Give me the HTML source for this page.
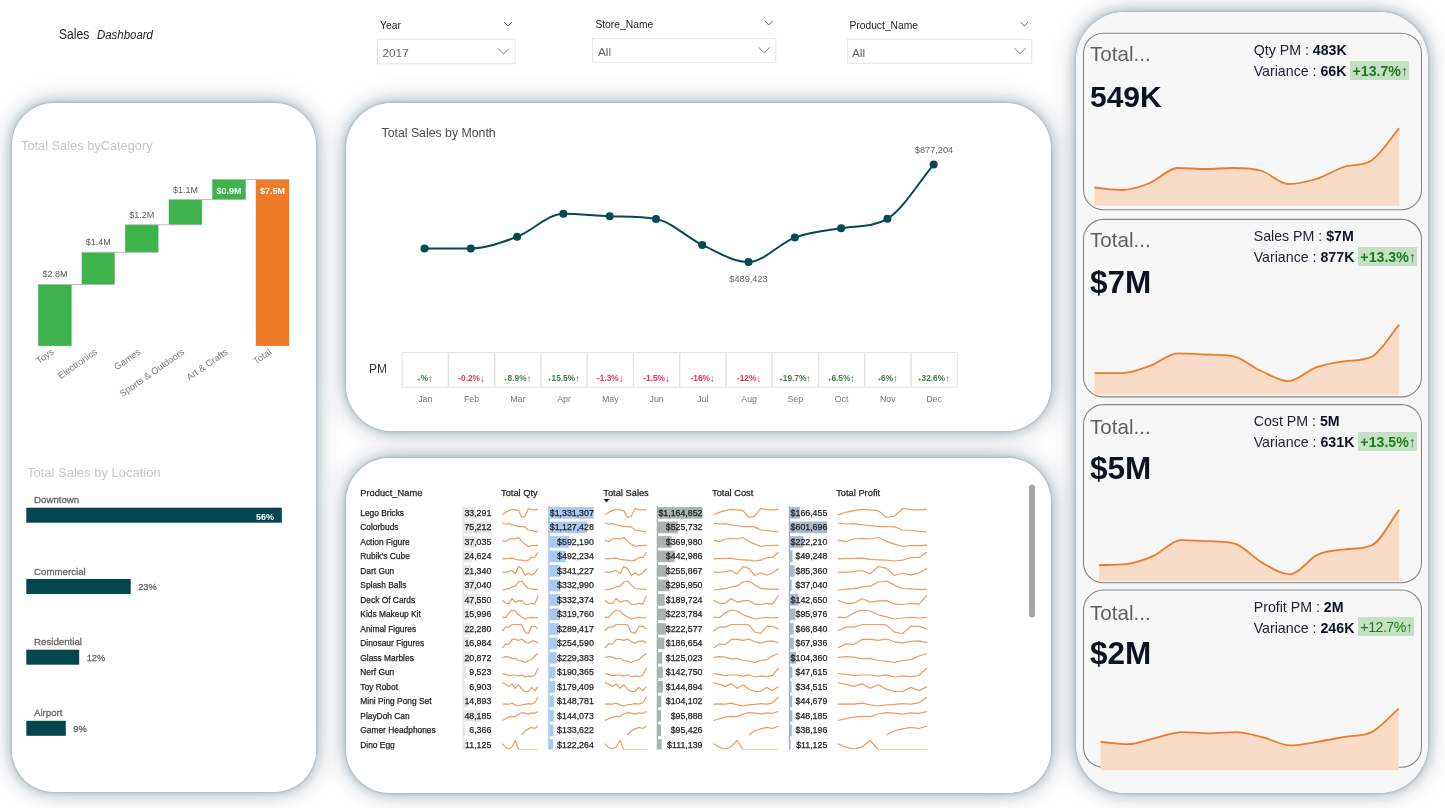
<!DOCTYPE html>
<html><head><meta charset="utf-8"><title>Sales Dashboard</title>
<style>
*{margin:0;padding:0;box-sizing:border-box}
html,body{width:1445px;height:808px;overflow:hidden;background:#ffffff}
body{position:relative;font-family:"Liberation Sans", "DejaVu Sans", sans-serif;color:#252423}
.abs{position:absolute}
.shadow{position:absolute;background:#fff;box-shadow:0 0 28px 2px rgba(40,40,70,0.16),0 0 14px 1px rgba(0,60,70,0.3),0 0 3px 0 rgba(0,50,60,0.3)}
.panel{position:absolute;background:#fff}
.t{position:absolute;white-space:nowrap;line-height:1}
svg{position:absolute;left:0;top:0;overflow:visible}
.tb text{stroke:#252423;stroke-width:0.25px}
.lb{stroke:#666;stroke-width:0.3px}
</style></head><body>

<div class="t" style="left:58.5px;top:25.88px;font-size:15.5px;color:#252423;transform:scaleX(0.78);transform-origin:0 0">Sales</div>
<div class="t" style="left:97.4px;top:28.59px;font-size:12.3px;font-style:italic;color:#252423;transform:scaleX(0.93);transform-origin:0 0">Dashboard</div>
<svg width="1445" height="808" style="z-index:5">
<rect x="377.5" y="39.3" width="137.5" height="24.400000000000006" fill="#fff" stroke="#e6e6e6" stroke-width="1"/>
<text x="380" y="29" font-size="10.3" fill="#252423">Year</text>
<text x="382.5" y="57" font-size="11.8" fill="#666666">2017</text>
<polyline points="498,48.5 503.5,54.0 509,48.5" fill="none" stroke="#6a6a6a" stroke-width="0.9"/>
<polyline points="504,22 508.0,26 512,22" fill="none" stroke="#605e5c" stroke-width="0.9"/>
<rect x="592.6" y="38.4" width="183.10000000000002" height="23.9" fill="#fff" stroke="#e6e6e6" stroke-width="1"/>
<text x="595.4" y="28" font-size="10.3" fill="#252423">Store_Name</text>
<text x="598" y="55.7" font-size="11.8" fill="#666666">All</text>
<polyline points="758.7,47.349999999999994 764.25,52.849999999999994 769.8,47.349999999999994" fill="none" stroke="#6a6a6a" stroke-width="0.9"/>
<polyline points="765,21 768.75,25 772.5,21" fill="none" stroke="#605e5c" stroke-width="0.9"/>
<rect x="847.6" y="39.3" width="184.10000000000002" height="24.0" fill="#fff" stroke="#e6e6e6" stroke-width="1"/>
<text x="849.4" y="28.7" font-size="10.3" fill="#252423">Product_Name</text>
<text x="852" y="56.5" font-size="11.8" fill="#666666">All</text>
<polyline points="1014.7,48.3 1020.1,53.8 1025.5,48.3" fill="none" stroke="#6a6a6a" stroke-width="0.9"/>
<polyline points="1020.6,22 1024.3,26 1028.0,22" fill="none" stroke="#605e5c" stroke-width="0.9"/>
</svg>
<div class="shadow" style="left:12px;top:103px;width:304px;height:689px;border-radius:42px"></div>
<div class="shadow" style="left:345.5px;top:103px;width:705.5px;height:328px;border-radius:46px"></div>
<div class="shadow" style="left:345.5px;top:457.5px;width:705.5px;height:335px;border-radius:44px"></div>
<div class="shadow" style="left:1076px;top:12.4px;width:351.5px;height:780.5px;border-radius:49px"></div>
<div class="panel" style="left:12px;top:103px;width:304px;height:689px;border-radius:42px;background:#fff"></div>
<div class="panel" style="left:345.5px;top:103px;width:705.5px;height:328px;border-radius:46px;background:#fff"></div>
<div class="panel" style="left:345.5px;top:457.5px;width:705.5px;height:335px;border-radius:44px;background:#fff"></div>
<div class="panel" style="left:1076px;top:12.4px;width:351.5px;height:780.5px;border-radius:49px;background:#f7f7f7"></div>
<svg width="1445" height="808" style="z-index:6">
<text x="21" y="150.4" font-size="12.8" fill="#c8c8c8">Total Sales byCategory</text>
<rect x="38.2" y="284.5" width="33.4" height="61.4" fill="#3cb44b"/>
<rect x="81.7" y="252.3" width="33.0" height="32.2" fill="#3cb44b"/>
<rect x="125.2" y="224.8" width="33.2" height="27.5" fill="#3cb44b"/>
<rect x="168.8" y="199.6" width="33.1" height="25.2" fill="#3cb44b"/>
<rect x="212.3" y="179.4" width="33.4" height="20.2" fill="#3cb44b"/>
<rect x="255.8" y="179.4" width="33.4" height="166.5" fill="#f07b27"/>
<line x1="38.2" y1="284.5" x2="114.7" y2="284.5" stroke="#b4b4b4" stroke-width="0.9"/>
<line x1="81.7" y1="252.3" x2="158.4" y2="252.3" stroke="#b4b4b4" stroke-width="0.9"/>
<line x1="125.2" y1="224.8" x2="201.9" y2="224.8" stroke="#b4b4b4" stroke-width="0.9"/>
<line x1="168.8" y1="199.6" x2="245.7" y2="199.6" stroke="#b4b4b4" stroke-width="0.9"/>
<line x1="212.3" y1="179.4" x2="289.2" y2="179.4" stroke="#b4b4b4" stroke-width="0.9"/>
<text x="54.9" y="276.5" font-size="9" fill="#5a5a5a" text-anchor="middle">$2.8M</text>
<text x="98.2" y="244.8" font-size="9" fill="#5a5a5a" text-anchor="middle">$1.4M</text>
<text x="141.8" y="217.7" font-size="9" fill="#5a5a5a" text-anchor="middle">$1.2M</text>
<text x="185.4" y="192.8" font-size="9" fill="#5a5a5a" text-anchor="middle">$1.1M</text>
<text x="229.0" y="194.2" font-size="9" font-weight="bold" fill="#ffffff" text-anchor="middle">$0.9M</text>
<text x="272.5" y="194.2" font-size="9" font-weight="bold" fill="#ffffff" text-anchor="middle">$7.5M</text>
<text x="52.2" y="354" font-size="9.3" fill="#7a7a7a" text-anchor="end" transform="rotate(-35 52.2 350)">Toys</text>
<text x="95.5" y="354" font-size="9.3" fill="#7a7a7a" text-anchor="end" transform="rotate(-35 95.5 350)">Electronics</text>
<text x="139.1" y="354" font-size="9.3" fill="#7a7a7a" text-anchor="end" transform="rotate(-35 139.1 350)">Games</text>
<text x="182.7" y="354" font-size="9.3" fill="#7a7a7a" text-anchor="end" transform="rotate(-35 182.7 350)">Sports &amp; Outdoors</text>
<text x="226.3" y="354" font-size="9.3" fill="#7a7a7a" text-anchor="end" transform="rotate(-35 226.3 350)">Art &amp; Crafts</text>
<text x="269.8" y="354" font-size="9.3" fill="#7a7a7a" text-anchor="end" transform="rotate(-35 269.8 350)">Total</text>
<text x="27" y="477.3" font-size="13" fill="#c8c8c8">Total Sales by Location</text>
<text x="34" y="503" font-size="9.7" fill="#666666" class="lb">Downtown</text>
<rect x="26.3" y="507.7" width="255.5" height="15" fill="#05454f"/>
<text x="274" y="519.5" font-size="9" font-weight="bold" fill="#ffffff" text-anchor="end">56%</text>
<text x="34" y="575" font-size="9.7" fill="#666666" class="lb">Commercial</text>
<rect x="26.3" y="579" width="104.4" height="15" fill="#05454f"/>
<text x="138.2" y="589.8" font-size="9.3" fill="#666666" class="lb">23%</text>
<text x="34" y="645.2" font-size="9.7" fill="#666666" class="lb">Residential</text>
<rect x="26.3" y="649.7" width="52.9" height="15" fill="#05454f"/>
<text x="86.7" y="660.5" font-size="9.3" fill="#666666" class="lb">12%</text>
<text x="34" y="716.3" font-size="9.7" fill="#666666" class="lb">Airport</text>
<rect x="26.3" y="720.8" width="39.5" height="15" fill="#05454f"/>
<text x="73.3" y="731.6" font-size="9.3" fill="#666666" class="lb">9%</text>
</svg>
<svg width="1445" height="808" style="z-index:6">
<text x="381.5" y="137.3" font-size="12.3" fill="#4a4a4a">Total Sales by Month</text>
<path d="M424.5,248.4 C439.9,248.4 455.4,248.4 470.8,248.4 C486.2,248.4 501.7,242.6 517.1,236.8 C532.5,231.0 547.9,213.8 563.4,213.8 C578.8,213.8 594.2,215.8 609.7,216.3 C625.1,216.8 640.5,216.3 656.0,218.9 C671.4,221.5 686.8,237.7 702.2,244.9 C717.7,252.1 733.1,262.0 748.5,262.0 C764.0,262.0 779.4,243.2 794.8,237.6 C810.2,232.0 825.7,230.9 841.1,228.2 C856.5,225.5 872.0,227.8 887.4,218.8 C902.8,209.8 918.3,182.7 933.7,164.6" fill="none" stroke="#074855" stroke-width="2"/>
<circle cx="424.5" cy="248.4" r="4" fill="#074855"/>
<circle cx="470.8" cy="248.4" r="4" fill="#074855"/>
<circle cx="517.1" cy="236.8" r="4" fill="#074855"/>
<circle cx="563.4" cy="213.8" r="4" fill="#074855"/>
<circle cx="609.7" cy="216.3" r="4" fill="#074855"/>
<circle cx="656.0" cy="218.9" r="4" fill="#074855"/>
<circle cx="702.2" cy="244.9" r="4" fill="#074855"/>
<circle cx="748.5" cy="262.0" r="4" fill="#074855"/>
<circle cx="794.8" cy="237.6" r="4" fill="#074855"/>
<circle cx="841.1" cy="228.2" r="4" fill="#074855"/>
<circle cx="887.4" cy="218.8" r="4" fill="#074855"/>
<circle cx="933.7" cy="164.6" r="4" fill="#074855"/>
<text x="934" y="152.6" font-size="9.2" fill="#666" text-anchor="middle">$877,204</text>
<text x="748.5" y="281.5" font-size="9.2" fill="#666" text-anchor="middle">$489,423</text>
<text x="369" y="372.7" font-size="12" fill="#333">PM</text>
<rect x="402.2" y="352.6" width="555.0" height="34.6" fill="#fff" stroke="#e3e3e3" stroke-width="1"/>
<line x1="448.4" y1="352.6" x2="448.4" y2="387.2" stroke="#e3e3e3" stroke-width="1.5"/>
<line x1="494.7" y1="352.6" x2="494.7" y2="387.2" stroke="#e3e3e3" stroke-width="1.5"/>
<line x1="541.0" y1="352.6" x2="541.0" y2="387.2" stroke="#e3e3e3" stroke-width="1.5"/>
<line x1="587.2" y1="352.6" x2="587.2" y2="387.2" stroke="#e3e3e3" stroke-width="1.5"/>
<line x1="633.5" y1="352.6" x2="633.5" y2="387.2" stroke="#e3e3e3" stroke-width="1.5"/>
<line x1="679.7" y1="352.6" x2="679.7" y2="387.2" stroke="#e3e3e3" stroke-width="1.5"/>
<line x1="726.0" y1="352.6" x2="726.0" y2="387.2" stroke="#e3e3e3" stroke-width="1.5"/>
<line x1="772.2" y1="352.6" x2="772.2" y2="387.2" stroke="#e3e3e3" stroke-width="1.5"/>
<line x1="818.5" y1="352.6" x2="818.5" y2="387.2" stroke="#e3e3e3" stroke-width="1.5"/>
<line x1="864.7" y1="352.6" x2="864.7" y2="387.2" stroke="#e3e3e3" stroke-width="1.5"/>
<line x1="911.0" y1="352.6" x2="911.0" y2="387.2" stroke="#e3e3e3" stroke-width="1.5"/>
<text x="425.3" y="381.3" font-size="8.3" font-weight="bold" fill="#3f7f3f" text-anchor="middle"><tspan font-size="6" dy="-0.5">+</tspan><tspan dy="0.5">%</tspan><tspan font-size="10" font-weight="normal" dy="0.8">&#8593;</tspan></text>
<text x="425.3" y="401.5" font-size="8.8" fill="#777" text-anchor="middle">Jan</text>
<text x="471.6" y="381.3" font-size="8.3" font-weight="bold" fill="#f0304c" text-anchor="middle"><tspan>-0.2%</tspan><tspan font-size="10" font-weight="normal" dy="0.8">&#8595;</tspan></text>
<text x="471.6" y="401.5" font-size="8.8" fill="#777" text-anchor="middle">Feb</text>
<text x="517.8" y="381.3" font-size="8.3" font-weight="bold" fill="#3f7f3f" text-anchor="middle"><tspan font-size="6" dy="-0.5">+</tspan><tspan dy="0.5">8.9%</tspan><tspan font-size="10" font-weight="normal" dy="0.8">&#8593;</tspan></text>
<text x="517.8" y="401.5" font-size="8.8" fill="#777" text-anchor="middle">Mar</text>
<text x="564.1" y="381.3" font-size="8.3" font-weight="bold" fill="#3f7f3f" text-anchor="middle"><tspan font-size="6" dy="-0.5">+</tspan><tspan dy="0.5">15.5%</tspan><tspan font-size="10" font-weight="normal" dy="0.8">&#8593;</tspan></text>
<text x="564.1" y="401.5" font-size="8.8" fill="#777" text-anchor="middle">Apr</text>
<text x="610.3" y="381.3" font-size="8.3" font-weight="bold" fill="#f0304c" text-anchor="middle"><tspan>-1.3%</tspan><tspan font-size="10" font-weight="normal" dy="0.8">&#8595;</tspan></text>
<text x="610.3" y="401.5" font-size="8.8" fill="#777" text-anchor="middle">May</text>
<text x="656.6" y="381.3" font-size="8.3" font-weight="bold" fill="#f0304c" text-anchor="middle"><tspan>-1.5%</tspan><tspan font-size="10" font-weight="normal" dy="0.8">&#8595;</tspan></text>
<text x="656.6" y="401.5" font-size="8.8" fill="#777" text-anchor="middle">Jun</text>
<text x="702.8" y="381.3" font-size="8.3" font-weight="bold" fill="#f0304c" text-anchor="middle"><tspan>-16%</tspan><tspan font-size="10" font-weight="normal" dy="0.8">&#8595;</tspan></text>
<text x="702.8" y="401.5" font-size="8.8" fill="#777" text-anchor="middle">Jul</text>
<text x="749.1" y="381.3" font-size="8.3" font-weight="bold" fill="#f0304c" text-anchor="middle"><tspan>-12%</tspan><tspan font-size="10" font-weight="normal" dy="0.8">&#8595;</tspan></text>
<text x="749.1" y="401.5" font-size="8.8" fill="#777" text-anchor="middle">Aug</text>
<text x="795.3" y="381.3" font-size="8.3" font-weight="bold" fill="#3f7f3f" text-anchor="middle"><tspan font-size="6" dy="-0.5">+</tspan><tspan dy="0.5">19.7%</tspan><tspan font-size="10" font-weight="normal" dy="0.8">&#8593;</tspan></text>
<text x="795.3" y="401.5" font-size="8.8" fill="#777" text-anchor="middle">Sep</text>
<text x="841.6" y="381.3" font-size="8.3" font-weight="bold" fill="#3f7f3f" text-anchor="middle"><tspan font-size="6" dy="-0.5">+</tspan><tspan dy="0.5">6.5%</tspan><tspan font-size="10" font-weight="normal" dy="0.8">&#8593;</tspan></text>
<text x="841.6" y="401.5" font-size="8.8" fill="#777" text-anchor="middle">Oct</text>
<text x="887.8" y="381.3" font-size="8.3" font-weight="bold" fill="#3f7f3f" text-anchor="middle"><tspan font-size="6" dy="-0.5">+</tspan><tspan dy="0.5">6%</tspan><tspan font-size="10" font-weight="normal" dy="0.8">&#8593;</tspan></text>
<text x="887.8" y="401.5" font-size="8.8" fill="#777" text-anchor="middle">Nov</text>
<text x="934.1" y="381.3" font-size="8.3" font-weight="bold" fill="#3f7f3f" text-anchor="middle"><tspan font-size="6" dy="-0.5">+</tspan><tspan dy="0.5">32.6%</tspan><tspan font-size="10" font-weight="normal" dy="0.8">&#8593;</tspan></text>
<text x="934.1" y="401.5" font-size="8.8" fill="#777" text-anchor="middle">Dec</text>
</svg>
<div class="abs" style="left:346px;top:457px;width:705px;height:335px;overflow:hidden;z-index:6">
<svg width="705" height="335" style="left:0;top:0">
<g transform="translate(-346,-457)" class="tb">
<defs><clipPath id="tclip"><rect x="350" y="480" width="680" height="269.4"/></clipPath></defs>
<text x="360.3" y="495.5" font-size="9.3" fill="#252423">Product_Name</text>
<text x="501" y="495.5" font-size="9.3" fill="#252423">Total Qty</text>
<text x="603.3" y="495.5" font-size="9.3" fill="#252423">Total Sales</text>
<text x="712" y="495.5" font-size="9.3" fill="#252423">Total Cost</text>
<text x="836.2" y="495.5" font-size="9.3" fill="#252423">Total Profit</text>
<path d="M603.5,499 L609.5,499 L606.5,502.5 Z" fill="#252423"/>
<g clip-path="url(#tclip)">
<line x1="463.0" y1="506" x2="463.0" y2="760" stroke="#e0e0e0" stroke-width="1"/>
<line x1="549.0" y1="506" x2="549.0" y2="760" stroke="#7aa6e6" stroke-width="1"/>
<line x1="657.3" y1="506" x2="657.3" y2="760" stroke="#8a9694" stroke-width="1"/>
<line x1="789.4" y1="506" x2="789.4" y2="760" stroke="#8797b0" stroke-width="1"/>
<text x="360.3" y="515.5" font-size="8.4" fill="#252423">Lego Bricks</text>
<rect x="463.0" y="507.1" width="12.5" height="11.6" fill="#e6e6e6"/>
<text x="491.3" y="515.5" font-size="8.8" fill="#252423" text-anchor="end">33,291</text>
<path d="M502.4,514.8 L505.6,512.4 L508.9,510.6 L512.1,509.3 L515.3,509.8 L518.6,510.6 L521.8,517.5 L525.1,516.2 L528.3,508.5 L531.5,509.6 L534.8,509.9 L538.0,509.3" fill="none" stroke="#f29a5e" stroke-width="1.2" stroke-linejoin="round"/>
<rect x="549.0" y="507.1" width="44.8" height="11.6" fill="#a9c9f2"/>
<text x="593.8" y="515.5" font-size="8.8" fill="#252423" text-anchor="end">$1,331,307</text>
<path d="M604.8,514.8 L608.6,512.4 L612.4,510.6 L616.2,509.3 L620.0,509.8 L623.8,510.6 L627.5,517.5 L631.3,516.2 L635.1,508.5 L638.9,509.6 L642.7,509.9 L646.5,509.3" fill="none" stroke="#f29a5e" stroke-width="1.2" stroke-linejoin="round"/>
<rect x="657.3" y="507.1" width="45.2" height="11.6" fill="#a9b3b1"/>
<text x="702.5" y="515.5" font-size="8.8" fill="#252423" text-anchor="end">$1,164,852</text>
<path d="M713.4,514.8 L719.3,512.4 L725.2,510.6 L731.2,509.3 L737.1,509.8 L743.0,510.6 L748.9,517.5 L754.8,516.2 L760.7,508.5 L766.7,509.6 L772.6,509.9 L778.5,509.3" fill="none" stroke="#f29a5e" stroke-width="1.2" stroke-linejoin="round"/>
<rect x="789.4" y="507.1" width="10.5" height="11.6" fill="#aab8cc"/>
<text x="827.3" y="515.5" font-size="8.8" fill="#252423" text-anchor="end">$166,455</text>
<path d="M837.7,514.8 L845.8,512.4 L853.9,510.6 L862.1,509.3 L870.2,509.8 L878.3,510.6 L886.4,517.5 L894.5,516.2 L902.6,508.5 L910.8,509.6 L918.9,509.9 L927.0,509.3" fill="none" stroke="#f29a5e" stroke-width="1.2" stroke-linejoin="round"/>
<text x="360.3" y="530.0" font-size="8.4" fill="#252423">Colorbuds</text>
<rect x="463.0" y="521.6" width="28.3" height="11.6" fill="#e6e6e6"/>
<text x="491.3" y="530.0" font-size="8.8" fill="#252423" text-anchor="end">75,212</text>
<path d="M502.4,523.0 L505.6,524.0 L508.9,523.6 L512.1,524.8 L515.3,525.5 L518.6,526.6 L521.8,526.6 L525.1,526.9 L528.3,530.0 L531.5,530.5 L534.8,531.4 L538.0,532.0" fill="none" stroke="#f29a5e" stroke-width="1.2" stroke-linejoin="round"/>
<rect x="549.0" y="521.6" width="37.9" height="11.6" fill="#a9c9f2"/>
<text x="593.8" y="530.0" font-size="8.8" fill="#252423" text-anchor="end">$1,127,428</text>
<path d="M604.8,523.0 L608.6,524.0 L612.4,523.6 L616.2,524.8 L620.0,525.5 L623.8,526.6 L627.5,526.6 L631.3,526.9 L635.1,530.0 L638.9,530.5 L642.7,531.4 L646.5,532.0" fill="none" stroke="#f29a5e" stroke-width="1.2" stroke-linejoin="round"/>
<rect x="657.3" y="521.6" width="20.4" height="11.6" fill="#a9b3b1"/>
<text x="702.5" y="530.0" font-size="8.8" fill="#252423" text-anchor="end">$525,732</text>
<path d="M713.4,523.0 L719.3,524.0 L725.2,523.6 L731.2,524.8 L737.1,525.5 L743.0,526.6 L748.9,526.6 L754.8,526.9 L760.7,530.0 L766.7,530.5 L772.6,531.4 L778.5,532.0" fill="none" stroke="#f29a5e" stroke-width="1.2" stroke-linejoin="round"/>
<rect x="789.4" y="521.6" width="37.8" height="11.6" fill="#aab8cc"/>
<text x="827.3" y="530.0" font-size="8.8" fill="#252423" text-anchor="end">$601,696</text>
<path d="M837.7,523.0 L845.8,524.0 L853.9,523.6 L862.1,524.8 L870.2,525.5 L878.3,526.6 L886.4,526.6 L894.5,526.9 L902.6,530.0 L910.8,530.5 L918.9,531.4 L927.0,532.0" fill="none" stroke="#f29a5e" stroke-width="1.2" stroke-linejoin="round"/>
<text x="360.3" y="544.5" font-size="8.4" fill="#252423">Action Figure</text>
<rect x="463.0" y="536.1" width="13.9" height="11.6" fill="#e6e6e6"/>
<text x="491.3" y="544.5" font-size="8.8" fill="#252423" text-anchor="end">37,035</text>
<path d="M502.4,540.2 L505.6,541.7 L508.9,539.0 L512.1,538.4 L515.3,539.0 L518.6,537.5 L521.8,541.4 L525.1,544.1 L528.3,546.5 L531.5,545.5 L534.8,545.6 L538.0,545.1" fill="none" stroke="#f29a5e" stroke-width="1.2" stroke-linejoin="round"/>
<rect x="549.0" y="536.1" width="19.9" height="11.6" fill="#a9c9f2"/>
<text x="593.8" y="544.5" font-size="8.8" fill="#252423" text-anchor="end">$592,190</text>
<path d="M604.8,540.2 L608.6,541.7 L612.4,539.0 L616.2,538.4 L620.0,539.0 L623.8,537.5 L627.5,541.4 L631.3,544.1 L635.1,546.5 L638.9,545.5 L642.7,545.6 L646.5,545.1" fill="none" stroke="#f29a5e" stroke-width="1.2" stroke-linejoin="round"/>
<rect x="657.3" y="536.1" width="14.4" height="11.6" fill="#a9b3b1"/>
<text x="702.5" y="544.5" font-size="8.8" fill="#252423" text-anchor="end">$369,980</text>
<path d="M713.4,540.2 L719.3,541.7 L725.2,539.0 L731.2,538.4 L737.1,539.0 L743.0,537.5 L748.9,541.4 L754.8,544.1 L760.7,546.5 L766.7,545.5 L772.6,545.6 L778.5,545.1" fill="none" stroke="#f29a5e" stroke-width="1.2" stroke-linejoin="round"/>
<rect x="789.4" y="536.1" width="14.0" height="11.6" fill="#aab8cc"/>
<text x="827.3" y="544.5" font-size="8.8" fill="#252423" text-anchor="end">$222,210</text>
<path d="M837.7,540.2 L845.8,541.7 L853.9,539.0 L862.1,538.4 L870.2,539.0 L878.3,537.5 L886.4,541.4 L894.5,544.1 L902.6,546.5 L910.8,545.5 L918.9,545.6 L927.0,545.1" fill="none" stroke="#f29a5e" stroke-width="1.2" stroke-linejoin="round"/>
<text x="360.3" y="559.0" font-size="8.4" fill="#252423">Rubik&#39;s Cube</text>
<rect x="463.0" y="550.6" width="9.3" height="11.6" fill="#e6e6e6"/>
<text x="491.3" y="559.0" font-size="8.8" fill="#252423" text-anchor="end">24,624</text>
<path d="M502.4,558.9 L505.6,558.6 L508.9,558.4 L512.1,558.1 L515.3,559.3 L518.6,559.8 L521.8,560.2 L525.1,561.0 L528.3,560.2 L531.5,557.5 L534.8,557.5 L538.0,552.0" fill="none" stroke="#f29a5e" stroke-width="1.2" stroke-linejoin="round"/>
<rect x="549.0" y="550.6" width="16.6" height="11.6" fill="#a9c9f2"/>
<text x="593.8" y="559.0" font-size="8.8" fill="#252423" text-anchor="end">$492,234</text>
<path d="M604.8,558.9 L608.6,558.6 L612.4,558.4 L616.2,558.1 L620.0,559.3 L623.8,559.8 L627.5,560.2 L631.3,561.0 L635.1,560.2 L638.9,557.5 L642.7,557.5 L646.5,552.0" fill="none" stroke="#f29a5e" stroke-width="1.2" stroke-linejoin="round"/>
<rect x="657.3" y="550.6" width="17.2" height="11.6" fill="#a9b3b1"/>
<text x="702.5" y="559.0" font-size="8.8" fill="#252423" text-anchor="end">$442,986</text>
<path d="M713.4,558.9 L719.3,558.6 L725.2,558.4 L731.2,558.1 L737.1,559.3 L743.0,559.8 L748.9,560.2 L754.8,561.0 L760.7,560.2 L766.7,557.5 L772.6,557.5 L778.5,552.0" fill="none" stroke="#f29a5e" stroke-width="1.2" stroke-linejoin="round"/>
<rect x="789.4" y="550.6" width="3.1" height="11.6" fill="#aab8cc"/>
<text x="827.3" y="559.0" font-size="8.8" fill="#252423" text-anchor="end">$49,248</text>
<path d="M837.7,558.9 L845.8,558.6 L853.9,558.4 L862.1,558.1 L870.2,559.3 L878.3,559.8 L886.4,560.2 L894.5,561.0 L902.6,560.2 L910.8,557.5 L918.9,557.5 L927.0,552.0" fill="none" stroke="#f29a5e" stroke-width="1.2" stroke-linejoin="round"/>
<text x="360.3" y="573.5" font-size="8.4" fill="#252423">Dart Gun</text>
<rect x="463.0" y="565.1" width="8.0" height="11.6" fill="#e6e6e6"/>
<text x="491.3" y="573.5" font-size="8.8" fill="#252423" text-anchor="end">21,340</text>
<path d="M502.4,572.1 L505.6,572.4 L508.9,571.6 L512.1,570.5 L515.3,573.9 L518.6,566.5 L521.8,568.4 L525.1,575.5 L528.3,573.0 L531.5,575.2 L534.8,573.0 L538.0,568.5" fill="none" stroke="#f29a5e" stroke-width="1.2" stroke-linejoin="round"/>
<rect x="549.0" y="565.1" width="11.5" height="11.6" fill="#a9c9f2"/>
<text x="593.8" y="573.5" font-size="8.8" fill="#252423" text-anchor="end">$341,227</text>
<path d="M604.8,572.1 L608.6,572.4 L612.4,571.6 L616.2,570.5 L620.0,573.9 L623.8,566.5 L627.5,568.4 L631.3,575.5 L635.1,573.0 L638.9,575.2 L642.7,573.0 L646.5,568.5" fill="none" stroke="#f29a5e" stroke-width="1.2" stroke-linejoin="round"/>
<rect x="657.3" y="565.1" width="9.9" height="11.6" fill="#a9b3b1"/>
<text x="702.5" y="573.5" font-size="8.8" fill="#252423" text-anchor="end">$255,867</text>
<path d="M713.4,572.1 L719.3,572.4 L725.2,571.6 L731.2,570.5 L737.1,573.9 L743.0,566.5 L748.9,568.4 L754.8,575.5 L760.7,573.0 L766.7,575.2 L772.6,573.0 L778.5,568.5" fill="none" stroke="#f29a5e" stroke-width="1.2" stroke-linejoin="round"/>
<rect x="789.4" y="565.1" width="5.4" height="11.6" fill="#aab8cc"/>
<text x="827.3" y="573.5" font-size="8.8" fill="#252423" text-anchor="end">$85,360</text>
<path d="M837.7,572.1 L845.8,572.4 L853.9,571.6 L862.1,570.5 L870.2,573.9 L878.3,566.5 L886.4,568.4 L894.5,575.5 L902.6,573.0 L910.8,575.2 L918.9,573.0 L927.0,568.5" fill="none" stroke="#f29a5e" stroke-width="1.2" stroke-linejoin="round"/>
<text x="360.3" y="588.0" font-size="8.4" fill="#252423">Splash Balls</text>
<rect x="463.0" y="579.6" width="13.9" height="11.6" fill="#e6e6e6"/>
<text x="491.3" y="588.0" font-size="8.8" fill="#252423" text-anchor="end">37,040</text>
<path d="M502.4,590.0 L505.6,589.4 L508.9,588.7 L512.1,586.8 L515.3,586.2 L518.6,582.0 L521.8,581.0 L525.1,585.1 L528.3,588.5 L531.5,588.8 L534.8,589.3 L538.0,589.4" fill="none" stroke="#f29a5e" stroke-width="1.2" stroke-linejoin="round"/>
<rect x="549.0" y="579.6" width="11.2" height="11.6" fill="#a9c9f2"/>
<text x="593.8" y="588.0" font-size="8.8" fill="#252423" text-anchor="end">$332,990</text>
<path d="M604.8,590.0 L608.6,589.4 L612.4,588.7 L616.2,586.8 L620.0,586.2 L623.8,582.0 L627.5,581.0 L631.3,585.1 L635.1,588.5 L638.9,588.8 L642.7,589.3 L646.5,589.4" fill="none" stroke="#f29a5e" stroke-width="1.2" stroke-linejoin="round"/>
<rect x="657.3" y="579.6" width="11.5" height="11.6" fill="#a9b3b1"/>
<text x="702.5" y="588.0" font-size="8.8" fill="#252423" text-anchor="end">$295,950</text>
<path d="M713.4,590.0 L719.3,589.4 L725.2,588.7 L731.2,586.8 L737.1,586.2 L743.0,582.0 L748.9,581.0 L754.8,585.1 L760.7,588.5 L766.7,588.8 L772.6,589.3 L778.5,589.4" fill="none" stroke="#f29a5e" stroke-width="1.2" stroke-linejoin="round"/>
<rect x="789.4" y="579.6" width="2.3" height="11.6" fill="#aab8cc"/>
<text x="827.3" y="588.0" font-size="8.8" fill="#252423" text-anchor="end">$37,040</text>
<path d="M837.7,590.0 L845.8,589.4 L853.9,588.7 L862.1,586.8 L870.2,586.2 L878.3,582.0 L886.4,581.0 L894.5,585.1 L902.6,588.5 L910.8,588.8 L918.9,589.3 L927.0,589.4" fill="none" stroke="#f29a5e" stroke-width="1.2" stroke-linejoin="round"/>
<text x="360.3" y="602.5" font-size="8.4" fill="#252423">Deck Of Cards</text>
<rect x="463.0" y="594.1" width="17.9" height="11.6" fill="#e6e6e6"/>
<text x="491.3" y="602.5" font-size="8.8" fill="#252423" text-anchor="end">47,550</text>
<path d="M502.4,600.3 L505.6,603.3 L508.9,603.3 L512.1,598.5 L515.3,602.1 L518.6,600.9 L521.8,600.6 L525.1,604.2 L528.3,604.5 L531.5,603.3 L534.8,604.2 L538.0,595.5" fill="none" stroke="#f29a5e" stroke-width="1.2" stroke-linejoin="round"/>
<rect x="549.0" y="594.1" width="11.2" height="11.6" fill="#a9c9f2"/>
<text x="593.8" y="602.5" font-size="8.8" fill="#252423" text-anchor="end">$332,374</text>
<path d="M604.8,600.3 L608.6,603.3 L612.4,603.3 L616.2,598.5 L620.0,602.1 L623.8,600.9 L627.5,600.6 L631.3,604.2 L635.1,604.5 L638.9,603.3 L642.7,604.2 L646.5,595.5" fill="none" stroke="#f29a5e" stroke-width="1.2" stroke-linejoin="round"/>
<rect x="657.3" y="594.1" width="7.4" height="11.6" fill="#a9b3b1"/>
<text x="702.5" y="602.5" font-size="8.8" fill="#252423" text-anchor="end">$189,724</text>
<path d="M713.4,600.3 L719.3,603.3 L725.2,603.3 L731.2,598.5 L737.1,602.1 L743.0,600.9 L748.9,600.6 L754.8,604.2 L760.7,604.5 L766.7,603.3 L772.6,604.2 L778.5,595.5" fill="none" stroke="#f29a5e" stroke-width="1.2" stroke-linejoin="round"/>
<rect x="789.4" y="594.1" width="9.0" height="11.6" fill="#aab8cc"/>
<text x="827.3" y="602.5" font-size="8.8" fill="#252423" text-anchor="end">$142,650</text>
<path d="M837.7,600.3 L845.8,603.3 L853.9,603.3 L862.1,598.5 L870.2,602.1 L878.3,600.9 L886.4,600.6 L894.5,604.2 L902.6,604.5 L910.8,603.3 L918.9,604.2 L927.0,595.5" fill="none" stroke="#f29a5e" stroke-width="1.2" stroke-linejoin="round"/>
<text x="360.3" y="617.0" font-size="8.4" fill="#252423">Kids Makeup Kit</text>
<rect x="463.0" y="608.6" width="6.0" height="11.6" fill="#e6e6e6"/>
<text x="491.3" y="617.0" font-size="8.8" fill="#252423" text-anchor="end">15,996</text>
<path d="M502.4,617.2 L505.6,617.7 L508.9,612.9 L512.1,610.0 L515.3,611.0 L518.6,614.8 L521.8,616.9 L525.1,619.0 L528.3,618.0 L531.5,617.4 L534.8,618.0 L538.0,617.4" fill="none" stroke="#f29a5e" stroke-width="1.2" stroke-linejoin="round"/>
<rect x="549.0" y="608.6" width="10.8" height="11.6" fill="#a9c9f2"/>
<text x="593.8" y="617.0" font-size="8.8" fill="#252423" text-anchor="end">$319,760</text>
<path d="M604.8,617.2 L608.6,617.7 L612.4,612.9 L616.2,610.0 L620.0,611.0 L623.8,614.8 L627.5,616.9 L631.3,619.0 L635.1,618.0 L638.9,617.4 L642.7,618.0 L646.5,617.4" fill="none" stroke="#f29a5e" stroke-width="1.2" stroke-linejoin="round"/>
<rect x="657.3" y="608.6" width="8.7" height="11.6" fill="#a9b3b1"/>
<text x="702.5" y="617.0" font-size="8.8" fill="#252423" text-anchor="end">$223,784</text>
<path d="M713.4,617.2 L719.3,617.7 L725.2,612.9 L731.2,610.0 L737.1,611.0 L743.0,614.8 L748.9,616.9 L754.8,619.0 L760.7,618.0 L766.7,617.4 L772.6,618.0 L778.5,617.4" fill="none" stroke="#f29a5e" stroke-width="1.2" stroke-linejoin="round"/>
<rect x="789.4" y="608.6" width="6.0" height="11.6" fill="#aab8cc"/>
<text x="827.3" y="617.0" font-size="8.8" fill="#252423" text-anchor="end">$95,976</text>
<path d="M837.7,617.2 L845.8,617.7 L853.9,612.9 L862.1,610.0 L870.2,611.0 L878.3,614.8 L886.4,616.9 L894.5,619.0 L902.6,618.0 L910.8,617.4 L918.9,618.0 L927.0,617.4" fill="none" stroke="#f29a5e" stroke-width="1.2" stroke-linejoin="round"/>
<text x="360.3" y="631.5" font-size="8.4" fill="#252423">Animal Figures</text>
<rect x="463.0" y="623.1" width="8.4" height="11.6" fill="#e6e6e6"/>
<text x="491.3" y="631.5" font-size="8.8" fill="#252423" text-anchor="end">22,280</text>
<path d="M502.4,631.0 L505.6,627.1 L508.9,627.1 L512.1,624.5 L515.3,624.5 L518.6,624.5 L521.8,624.9 L525.1,632.1 L528.3,633.5 L531.5,626.4 L534.8,626.4 L538.0,628.9" fill="none" stroke="#f29a5e" stroke-width="1.2" stroke-linejoin="round"/>
<rect x="549.0" y="623.1" width="9.7" height="11.6" fill="#a9c9f2"/>
<text x="593.8" y="631.5" font-size="8.8" fill="#252423" text-anchor="end">$289,417</text>
<path d="M604.8,631.0 L608.6,627.1 L612.4,627.1 L616.2,624.5 L620.0,624.5 L623.8,624.5 L627.5,624.9 L631.3,632.1 L635.1,633.5 L638.9,626.4 L642.7,626.4 L646.5,628.9" fill="none" stroke="#f29a5e" stroke-width="1.2" stroke-linejoin="round"/>
<rect x="657.3" y="623.1" width="8.6" height="11.6" fill="#a9b3b1"/>
<text x="702.5" y="631.5" font-size="8.8" fill="#252423" text-anchor="end">$222,577</text>
<path d="M713.4,631.0 L719.3,627.1 L725.2,627.1 L731.2,624.5 L737.1,624.5 L743.0,624.5 L748.9,624.9 L754.8,632.1 L760.7,633.5 L766.7,626.4 L772.6,626.4 L778.5,628.9" fill="none" stroke="#f29a5e" stroke-width="1.2" stroke-linejoin="round"/>
<rect x="789.4" y="623.1" width="4.2" height="11.6" fill="#aab8cc"/>
<text x="827.3" y="631.5" font-size="8.8" fill="#252423" text-anchor="end">$66,840</text>
<path d="M837.7,631.0 L845.8,627.1 L853.9,627.1 L862.1,624.5 L870.2,624.5 L878.3,624.5 L886.4,624.9 L894.5,632.1 L902.6,633.5 L910.8,626.4 L918.9,626.4 L927.0,628.9" fill="none" stroke="#f29a5e" stroke-width="1.2" stroke-linejoin="round"/>
<text x="360.3" y="646.0" font-size="8.4" fill="#252423">Dinosaur Figures</text>
<rect x="463.0" y="637.6" width="6.4" height="11.6" fill="#e6e6e6"/>
<text x="491.3" y="646.0" font-size="8.8" fill="#252423" text-anchor="end">16,984</text>
<path d="M502.4,648.0 L505.6,643.9 L508.9,644.5 L512.1,639.4 L515.3,639.4 L518.6,640.4 L521.8,639.0 L525.1,641.8 L528.3,643.2 L531.5,641.3 L534.8,640.9 L538.0,642.7" fill="none" stroke="#f29a5e" stroke-width="1.2" stroke-linejoin="round"/>
<rect x="549.0" y="637.6" width="8.6" height="11.6" fill="#a9c9f2"/>
<text x="593.8" y="646.0" font-size="8.8" fill="#252423" text-anchor="end">$254,590</text>
<path d="M604.8,648.0 L608.6,643.9 L612.4,644.5 L616.2,639.4 L620.0,639.4 L623.8,640.4 L627.5,639.0 L631.3,641.8 L635.1,643.2 L638.9,641.3 L642.7,640.9 L646.5,642.7" fill="none" stroke="#f29a5e" stroke-width="1.2" stroke-linejoin="round"/>
<rect x="657.3" y="637.6" width="7.2" height="11.6" fill="#a9b3b1"/>
<text x="702.5" y="646.0" font-size="8.8" fill="#252423" text-anchor="end">$186,654</text>
<path d="M713.4,648.0 L719.3,643.9 L725.2,644.5 L731.2,639.4 L737.1,639.4 L743.0,640.4 L748.9,639.0 L754.8,641.8 L760.7,643.2 L766.7,641.3 L772.6,640.9 L778.5,642.7" fill="none" stroke="#f29a5e" stroke-width="1.2" stroke-linejoin="round"/>
<rect x="789.4" y="637.6" width="4.3" height="11.6" fill="#aab8cc"/>
<text x="827.3" y="646.0" font-size="8.8" fill="#252423" text-anchor="end">$67,936</text>
<path d="M837.7,648.0 L845.8,643.9 L853.9,644.5 L862.1,639.4 L870.2,639.4 L878.3,640.4 L886.4,639.0 L894.5,641.8 L902.6,643.2 L910.8,641.3 L918.9,640.9 L927.0,642.7" fill="none" stroke="#f29a5e" stroke-width="1.2" stroke-linejoin="round"/>
<text x="360.3" y="660.5" font-size="8.4" fill="#252423">Glass Marbles</text>
<rect x="463.0" y="652.1" width="7.9" height="11.6" fill="#e6e6e6"/>
<text x="491.3" y="660.5" font-size="8.8" fill="#252423" text-anchor="end">20,872</text>
<path d="M502.4,657.7 L505.6,656.6 L508.9,657.1 L512.1,658.8 L515.3,658.3 L518.6,660.5 L521.8,661.1 L525.1,662.5 L528.3,660.5 L531.5,659.6 L534.8,656.0 L538.0,653.5" fill="none" stroke="#f29a5e" stroke-width="1.2" stroke-linejoin="round"/>
<rect x="549.0" y="652.1" width="7.7" height="11.6" fill="#a9c9f2"/>
<text x="593.8" y="660.5" font-size="8.8" fill="#252423" text-anchor="end">$229,383</text>
<path d="M604.8,657.7 L608.6,656.6 L612.4,657.1 L616.2,658.8 L620.0,658.3 L623.8,660.5 L627.5,661.1 L631.3,662.5 L635.1,660.5 L638.9,659.6 L642.7,656.0 L646.5,653.5" fill="none" stroke="#f29a5e" stroke-width="1.2" stroke-linejoin="round"/>
<rect x="657.3" y="652.1" width="4.9" height="11.6" fill="#a9b3b1"/>
<text x="702.5" y="660.5" font-size="8.8" fill="#252423" text-anchor="end">$125,023</text>
<path d="M713.4,657.7 L719.3,656.6 L725.2,657.1 L731.2,658.8 L737.1,658.3 L743.0,660.5 L748.9,661.1 L754.8,662.5 L760.7,660.5 L766.7,659.6 L772.6,656.0 L778.5,653.5" fill="none" stroke="#f29a5e" stroke-width="1.2" stroke-linejoin="round"/>
<rect x="789.4" y="652.1" width="6.6" height="11.6" fill="#aab8cc"/>
<text x="827.3" y="660.5" font-size="8.8" fill="#252423" text-anchor="end">$104,360</text>
<path d="M837.7,657.7 L845.8,656.6 L853.9,657.1 L862.1,658.8 L870.2,658.3 L878.3,660.5 L886.4,661.1 L894.5,662.5 L902.6,660.5 L910.8,659.6 L918.9,656.0 L927.0,653.5" fill="none" stroke="#f29a5e" stroke-width="1.2" stroke-linejoin="round"/>
<text x="360.3" y="675.0" font-size="8.4" fill="#252423">Nerf Gun</text>
<rect x="463.0" y="666.6" width="3.6" height="11.6" fill="#e6e6e6"/>
<text x="491.3" y="675.0" font-size="8.8" fill="#252423" text-anchor="end">9,523</text>
<path d="M502.4,673.5 L505.6,674.4 L508.9,675.7 L512.1,675.0 L515.3,675.0 L518.6,676.1 L521.8,674.8 L525.1,677.0 L528.3,675.9 L531.5,676.6 L534.8,675.3 L538.0,668.0" fill="none" stroke="#f29a5e" stroke-width="1.2" stroke-linejoin="round"/>
<rect x="549.0" y="666.6" width="6.4" height="11.6" fill="#a9c9f2"/>
<text x="593.8" y="675.0" font-size="8.8" fill="#252423" text-anchor="end">$190,365</text>
<path d="M604.8,673.5 L608.6,674.4 L612.4,675.7 L616.2,675.0 L620.0,675.0 L623.8,676.1 L627.5,674.8 L631.3,677.0 L635.1,675.9 L638.9,676.6 L642.7,675.3 L646.5,668.0" fill="none" stroke="#f29a5e" stroke-width="1.2" stroke-linejoin="round"/>
<rect x="657.3" y="666.6" width="5.5" height="11.6" fill="#a9b3b1"/>
<text x="702.5" y="675.0" font-size="8.8" fill="#252423" text-anchor="end">$142,750</text>
<path d="M713.4,673.5 L719.3,674.4 L725.2,675.7 L731.2,675.0 L737.1,675.0 L743.0,676.1 L748.9,674.8 L754.8,677.0 L760.7,675.9 L766.7,676.6 L772.6,675.3 L778.5,668.0" fill="none" stroke="#f29a5e" stroke-width="1.2" stroke-linejoin="round"/>
<rect x="789.4" y="666.6" width="3.0" height="11.6" fill="#aab8cc"/>
<text x="827.3" y="675.0" font-size="8.8" fill="#252423" text-anchor="end">$47,615</text>
<path d="M837.7,673.5 L845.8,674.4 L853.9,675.7 L862.1,675.0 L870.2,675.0 L878.3,676.1 L886.4,674.8 L894.5,677.0 L902.6,675.9 L910.8,676.6 L918.9,675.3 L927.0,668.0" fill="none" stroke="#f29a5e" stroke-width="1.2" stroke-linejoin="round"/>
<text x="360.3" y="689.5" font-size="8.4" fill="#252423">Toy Robot</text>
<rect x="463.0" y="681.1" width="2.6" height="11.6" fill="#e6e6e6"/>
<text x="491.3" y="689.5" font-size="8.8" fill="#252423" text-anchor="end">6,903</text>
<path d="M502.4,682.5 L505.6,684.3 L508.9,686.4 L512.1,683.9 L515.3,688.3 L518.6,684.8 L521.8,689.2 L525.1,691.5 L528.3,691.5 L531.5,687.4 L534.8,690.6 L538.0,686.6" fill="none" stroke="#f29a5e" stroke-width="1.2" stroke-linejoin="round"/>
<rect x="549.0" y="681.1" width="6.0" height="11.6" fill="#a9c9f2"/>
<text x="593.8" y="689.5" font-size="8.8" fill="#252423" text-anchor="end">$179,409</text>
<path d="M604.8,682.5 L608.6,684.3 L612.4,686.4 L616.2,683.9 L620.0,688.3 L623.8,684.8 L627.5,689.2 L631.3,691.5 L635.1,691.5 L638.9,687.4 L642.7,690.6 L646.5,686.6" fill="none" stroke="#f29a5e" stroke-width="1.2" stroke-linejoin="round"/>
<rect x="657.3" y="681.1" width="5.6" height="11.6" fill="#a9b3b1"/>
<text x="702.5" y="689.5" font-size="8.8" fill="#252423" text-anchor="end">$144,894</text>
<path d="M713.4,682.5 L719.3,684.3 L725.2,686.4 L731.2,683.9 L737.1,688.3 L743.0,684.8 L748.9,689.2 L754.8,691.5 L760.7,691.5 L766.7,687.4 L772.6,690.6 L778.5,686.6" fill="none" stroke="#f29a5e" stroke-width="1.2" stroke-linejoin="round"/>
<rect x="789.4" y="681.1" width="2.2" height="11.6" fill="#aab8cc"/>
<text x="827.3" y="689.5" font-size="8.8" fill="#252423" text-anchor="end">$34,515</text>
<path d="M837.7,682.5 L845.8,684.3 L853.9,686.4 L862.1,683.9 L870.2,688.3 L878.3,684.8 L886.4,689.2 L894.5,691.5 L902.6,691.5 L910.8,687.4 L918.9,690.6 L927.0,686.6" fill="none" stroke="#f29a5e" stroke-width="1.2" stroke-linejoin="round"/>
<text x="360.3" y="704.0" font-size="8.4" fill="#252423">Mini Ping Pong Set</text>
<rect x="463.0" y="695.6" width="5.6" height="11.6" fill="#e6e6e6"/>
<text x="491.3" y="704.0" font-size="8.8" fill="#252423" text-anchor="end">14,893</text>
<path d="M502.4,704.2 L505.6,703.9 L508.9,704.2 L512.1,703.2 L515.3,704.9 L518.6,706.0 L521.8,704.8 L525.1,704.4 L528.3,703.7 L531.5,704.1 L534.8,702.8 L538.0,697.0" fill="none" stroke="#f29a5e" stroke-width="1.2" stroke-linejoin="round"/>
<rect x="549.0" y="695.6" width="5.0" height="11.6" fill="#a9c9f2"/>
<text x="593.8" y="704.0" font-size="8.8" fill="#252423" text-anchor="end">$148,781</text>
<path d="M604.8,704.2 L608.6,703.9 L612.4,704.2 L616.2,703.2 L620.0,704.9 L623.8,706.0 L627.5,704.8 L631.3,704.4 L635.1,703.7 L638.9,704.1 L642.7,702.8 L646.5,697.0" fill="none" stroke="#f29a5e" stroke-width="1.2" stroke-linejoin="round"/>
<rect x="657.3" y="695.6" width="4.0" height="11.6" fill="#a9b3b1"/>
<text x="702.5" y="704.0" font-size="8.8" fill="#252423" text-anchor="end">$104,102</text>
<path d="M713.4,704.2 L719.3,703.9 L725.2,704.2 L731.2,703.2 L737.1,704.9 L743.0,706.0 L748.9,704.8 L754.8,704.4 L760.7,703.7 L766.7,704.1 L772.6,702.8 L778.5,697.0" fill="none" stroke="#f29a5e" stroke-width="1.2" stroke-linejoin="round"/>
<rect x="789.4" y="695.6" width="2.8" height="11.6" fill="#aab8cc"/>
<text x="827.3" y="704.0" font-size="8.8" fill="#252423" text-anchor="end">$44,679</text>
<path d="M837.7,704.2 L845.8,703.9 L853.9,704.2 L862.1,703.2 L870.2,704.9 L878.3,706.0 L886.4,704.8 L894.5,704.4 L902.6,703.7 L910.8,704.1 L918.9,702.8 L927.0,697.0" fill="none" stroke="#f29a5e" stroke-width="1.2" stroke-linejoin="round"/>
<text x="360.3" y="718.5" font-size="8.4" fill="#252423">PlayDoh Can</text>
<rect x="463.0" y="710.1" width="18.1" height="11.6" fill="#e6e6e6"/>
<text x="491.3" y="718.5" font-size="8.8" fill="#252423" text-anchor="end">48,185</text>
<path d="M502.4,720.5 L505.6,718.7 L508.9,717.1 L512.1,716.4 L515.3,716.6 L518.6,714.0 L521.8,712.7 L525.1,713.1 L528.3,714.1 L531.5,712.9 L534.8,713.3 L538.0,711.5" fill="none" stroke="#f29a5e" stroke-width="1.2" stroke-linejoin="round"/>
<rect x="549.0" y="710.1" width="4.8" height="11.6" fill="#a9c9f2"/>
<text x="593.8" y="718.5" font-size="8.8" fill="#252423" text-anchor="end">$144,073</text>
<path d="M604.8,720.5 L608.6,718.7 L612.4,717.1 L616.2,716.4 L620.0,716.6 L623.8,714.0 L627.5,712.7 L631.3,713.1 L635.1,714.1 L638.9,712.9 L642.7,713.3 L646.5,711.5" fill="none" stroke="#f29a5e" stroke-width="1.2" stroke-linejoin="round"/>
<rect x="657.3" y="710.1" width="3.7" height="11.6" fill="#a9b3b1"/>
<text x="702.5" y="718.5" font-size="8.8" fill="#252423" text-anchor="end">$95,888</text>
<path d="M713.4,720.5 L719.3,718.7 L725.2,717.1 L731.2,716.4 L737.1,716.6 L743.0,714.0 L748.9,712.7 L754.8,713.1 L760.7,714.1 L766.7,712.9 L772.6,713.3 L778.5,711.5" fill="none" stroke="#f29a5e" stroke-width="1.2" stroke-linejoin="round"/>
<rect x="789.4" y="710.1" width="3.0" height="11.6" fill="#aab8cc"/>
<text x="827.3" y="718.5" font-size="8.8" fill="#252423" text-anchor="end">$48,185</text>
<path d="M837.7,720.5 L845.8,718.7 L853.9,717.1 L862.1,716.4 L870.2,716.6 L878.3,714.0 L886.4,712.7 L894.5,713.1 L902.6,714.1 L910.8,712.9 L918.9,713.3 L927.0,711.5" fill="none" stroke="#f29a5e" stroke-width="1.2" stroke-linejoin="round"/>
<text x="360.3" y="733.0" font-size="8.4" fill="#252423">Gamer Headphones</text>
<rect x="463.0" y="724.6" width="2.4" height="11.6" fill="#e6e6e6"/>
<text x="491.3" y="733.0" font-size="8.8" fill="#252423" text-anchor="end">6,366</text>
<path d="M521.8,735.0 L525.1,730.8 L528.3,728.9 L531.5,727.4 L534.8,728.5 L538.0,726.0" fill="none" stroke="#f29a5e" stroke-width="1.2" stroke-linejoin="round"/>
<rect x="549.0" y="724.6" width="4.5" height="11.6" fill="#a9c9f2"/>
<text x="593.8" y="733.0" font-size="8.8" fill="#252423" text-anchor="end">$133,622</text>
<path d="M627.5,735.0 L631.3,730.8 L635.1,728.9 L638.9,727.4 L642.7,728.5 L646.5,726.0" fill="none" stroke="#f29a5e" stroke-width="1.2" stroke-linejoin="round"/>
<rect x="657.3" y="724.6" width="3.7" height="11.6" fill="#a9b3b1"/>
<text x="702.5" y="733.0" font-size="8.8" fill="#252423" text-anchor="end">$95,426</text>
<path d="M748.9,735.0 L754.8,730.8 L760.7,728.9 L766.7,727.4 L772.6,728.5 L778.5,726.0" fill="none" stroke="#f29a5e" stroke-width="1.2" stroke-linejoin="round"/>
<rect x="789.4" y="724.6" width="2.4" height="11.6" fill="#aab8cc"/>
<text x="827.3" y="733.0" font-size="8.8" fill="#252423" text-anchor="end">$38,196</text>
<path d="M886.4,735.0 L894.5,730.8 L902.6,728.9 L910.8,727.4 L918.9,728.5 L927.0,726.0" fill="none" stroke="#f29a5e" stroke-width="1.2" stroke-linejoin="round"/>
<text x="360.3" y="747.5" font-size="8.4" fill="#252423">Dino Egg</text>
<rect x="463.0" y="739.1" width="4.2" height="11.6" fill="#e6e6e6"/>
<text x="491.3" y="747.5" font-size="8.8" fill="#252423" text-anchor="end">11,125</text>
<path d="M502.4,743.6 L505.6,747.2 L508.9,749.1 L512.1,746.8 L515.3,740.5 L518.6,749.5 L521.8,749.5 L525.1,749.5 L528.3,749.5 L531.5,749.5 L534.8,749.5 L538.0,749.5" fill="none" stroke="#f29a5e" stroke-width="1.2" stroke-linejoin="round"/>
<rect x="549.0" y="739.1" width="4.1" height="11.6" fill="#a9c9f2"/>
<text x="593.8" y="747.5" font-size="8.8" fill="#252423" text-anchor="end">$122,264</text>
<path d="M604.8,743.6 L608.6,747.2 L612.4,749.1 L616.2,746.8 L620.0,740.5 L623.8,749.5 L627.5,749.5 L631.3,749.5 L635.1,749.5 L638.9,749.5 L642.7,749.5 L646.5,749.5" fill="none" stroke="#f29a5e" stroke-width="1.2" stroke-linejoin="round"/>
<rect x="657.3" y="739.1" width="4.3" height="11.6" fill="#a9b3b1"/>
<text x="702.5" y="747.5" font-size="8.8" fill="#252423" text-anchor="end">$111,139</text>
<path d="M713.4,743.6 L719.3,747.2 L725.2,749.1 L731.2,746.8 L737.1,740.5 L743.0,749.5 L748.9,749.5 L754.8,749.5 L760.7,749.5 L766.7,749.5 L772.6,749.5 L778.5,749.5" fill="none" stroke="#f29a5e" stroke-width="1.2" stroke-linejoin="round"/>
<rect x="789.4" y="739.1" width="1.2" height="11.6" fill="#aab8cc"/>
<text x="827.3" y="747.5" font-size="8.8" fill="#252423" text-anchor="end">$11,125</text>
<path d="M837.7,743.6 L845.8,747.2 L853.9,749.1 L862.1,746.8 L870.2,740.5 L878.3,749.5 L886.4,749.5 L894.5,749.5 L902.6,749.5 L910.8,749.5 L918.9,749.5 L927.0,749.5" fill="none" stroke="#f29a5e" stroke-width="1.2" stroke-linejoin="round"/>
</g>
<rect x="1029" y="484.6" width="6" height="133" rx="3" fill="#a6a6a6"/>
</g></svg></div>
<svg width="1445" height="808" style="z-index:6">
<rect x="1083.5" y="33.2" width="338" height="176.6" rx="20" ry="20" fill="#f7f7f7" stroke="#858585" stroke-width="1.1"/>
<rect x="1083.5" y="219.4" width="338" height="177.5" rx="20" ry="20" fill="#f7f7f7" stroke="#858585" stroke-width="1.1"/>
<rect x="1083.5" y="404.6" width="338" height="178.2" rx="20" ry="20" fill="#f7f7f7" stroke="#858585" stroke-width="1.1"/>
<rect x="1083.5" y="590.0" width="338" height="177.2" rx="20" ry="20" fill="#f7f7f7" stroke="#858585" stroke-width="1.1"/>
<path d="M1094.5,187.5 C1103.7,188.3 1113.0,190.0 1122.2,190.0 C1131.4,190.0 1140.7,186.7 1149.9,183.0 C1159.1,179.3 1168.4,168.0 1177.6,168.0 C1186.8,168.0 1196.1,169.0 1205.3,169.0 C1214.5,169.0 1223.8,168.0 1233.0,168.0 C1242.2,168.0 1251.5,168.0 1260.7,170.5 C1269.9,173.0 1279.2,184.0 1288.4,184.0 C1297.6,184.0 1306.9,181.8 1316.1,179.0 C1325.3,176.2 1334.6,169.9 1343.8,167.0 C1353.0,164.1 1362.3,166.4 1371.5,160.4 C1380.7,154.4 1390.0,138.9 1399.2,128.2 L1399.2,205.7 L1094.5,205.7 Z" fill="#f8dcc8"/>
<path d="M1094.5,187.5 C1103.7,188.3 1113.0,190.0 1122.2,190.0 C1131.4,190.0 1140.7,186.7 1149.9,183.0 C1159.1,179.3 1168.4,168.0 1177.6,168.0 C1186.8,168.0 1196.1,169.0 1205.3,169.0 C1214.5,169.0 1223.8,168.0 1233.0,168.0 C1242.2,168.0 1251.5,168.0 1260.7,170.5 C1269.9,173.0 1279.2,184.0 1288.4,184.0 C1297.6,184.0 1306.9,181.8 1316.1,179.0 C1325.3,176.2 1334.6,169.9 1343.8,167.0 C1353.0,164.1 1362.3,166.4 1371.5,160.4 C1380.7,154.4 1390.0,138.9 1399.2,128.2" fill="none" stroke="#ef7a2a" stroke-width="1.8"/>
<path d="M1094.5,373.1 C1103.7,373.1 1113.0,373.1 1122.2,373.1 C1131.4,373.1 1140.7,369.2 1149.9,365.9 C1159.1,362.6 1168.4,353.3 1177.6,353.3 C1186.8,353.3 1196.1,354.2 1205.3,354.5 C1214.5,354.8 1223.8,354.5 1233.0,356.2 C1242.2,357.9 1251.5,366.6 1260.7,370.7 C1269.9,374.8 1279.2,381.1 1288.4,381.1 C1297.6,381.1 1306.9,370.6 1316.1,367.3 C1325.3,364.0 1334.6,362.5 1343.8,361.3 C1353.0,360.1 1362.3,361.1 1371.5,356.9 C1380.7,352.7 1390.0,335.4 1399.2,324.7 L1399.2,394.5 L1094.5,394.5 Z" fill="#f8dcc8"/>
<path d="M1094.5,373.1 C1103.7,373.1 1113.0,373.1 1122.2,373.1 C1131.4,373.1 1140.7,369.2 1149.9,365.9 C1159.1,362.6 1168.4,353.3 1177.6,353.3 C1186.8,353.3 1196.1,354.2 1205.3,354.5 C1214.5,354.8 1223.8,354.5 1233.0,356.2 C1242.2,357.9 1251.5,366.6 1260.7,370.7 C1269.9,374.8 1279.2,381.1 1288.4,381.1 C1297.6,381.1 1306.9,370.6 1316.1,367.3 C1325.3,364.0 1334.6,362.5 1343.8,361.3 C1353.0,360.1 1362.3,361.1 1371.5,356.9 C1380.7,352.7 1390.0,335.4 1399.2,324.7" fill="none" stroke="#ef7a2a" stroke-width="1.8"/>
<path d="M1098.9,565.1 C1108.0,564.9 1117.1,565.1 1126.2,564.1 C1135.3,563.1 1144.4,559.9 1153.5,555.9 C1162.6,551.9 1171.7,540.1 1180.8,540.1 C1189.9,540.1 1199.0,540.7 1208.1,541.1 C1217.2,541.5 1226.3,541.1 1235.4,543.8 C1244.5,546.5 1253.6,558.0 1262.7,563.1 C1271.8,568.2 1280.9,574.3 1290.0,574.3 C1299.1,574.3 1308.2,559.1 1317.3,554.9 C1326.4,550.7 1335.5,550.3 1344.6,549.3 C1353.7,548.3 1362.8,549.2 1371.9,545.2 C1381.0,541.2 1390.1,521.7 1399.2,509.9 L1399.2,581.5 L1098.9,581.5 Z" fill="#f8dcc8"/>
<path d="M1098.9,565.1 C1108.0,564.9 1117.1,565.1 1126.2,564.1 C1135.3,563.1 1144.4,559.9 1153.5,555.9 C1162.6,551.9 1171.7,540.1 1180.8,540.1 C1189.9,540.1 1199.0,540.7 1208.1,541.1 C1217.2,541.5 1226.3,541.1 1235.4,543.8 C1244.5,546.5 1253.6,558.0 1262.7,563.1 C1271.8,568.2 1280.9,574.3 1290.0,574.3 C1299.1,574.3 1308.2,559.1 1317.3,554.9 C1326.4,550.7 1335.5,550.3 1344.6,549.3 C1353.7,548.3 1362.8,549.2 1371.9,545.2 C1381.0,541.2 1390.1,521.7 1399.2,509.9" fill="none" stroke="#ef7a2a" stroke-width="1.8"/>
<path d="M1100.6,742.0 C1109.6,742.7 1118.7,744.2 1127.7,744.2 C1136.7,744.2 1145.8,740.1 1154.8,738.1 C1163.8,736.1 1172.9,732.1 1181.9,732.1 C1190.9,732.1 1200.0,733.3 1209.0,733.3 C1218.0,733.3 1227.1,732.1 1236.1,732.1 C1245.1,732.1 1254.2,735.2 1263.2,737.4 C1272.2,739.6 1281.3,745.4 1290.3,745.4 C1299.3,745.4 1308.4,743.2 1317.4,741.8 C1326.4,740.4 1335.5,738.5 1344.5,736.9 C1353.5,735.3 1362.6,736.6 1371.6,732.1 C1380.6,727.6 1389.7,716.4 1398.7,708.6 L1398.7,770.3 L1100.6,770.3 Z" fill="#f8dcc8"/>
<path d="M1100.6,742.0 C1109.6,742.7 1118.7,744.2 1127.7,744.2 C1136.7,744.2 1145.8,740.1 1154.8,738.1 C1163.8,736.1 1172.9,732.1 1181.9,732.1 C1190.9,732.1 1200.0,733.3 1209.0,733.3 C1218.0,733.3 1227.1,732.1 1236.1,732.1 C1245.1,732.1 1254.2,735.2 1263.2,737.4 C1272.2,739.6 1281.3,745.4 1290.3,745.4 C1299.3,745.4 1308.4,743.2 1317.4,741.8 C1326.4,740.4 1335.5,738.5 1344.5,736.9 C1353.5,735.3 1362.6,736.6 1371.6,732.1 C1380.6,727.6 1389.7,716.4 1398.7,708.6" fill="none" stroke="#ef7a2a" stroke-width="1.8"/>
</svg>
<div class="t" style="left:1090px;top:44.36px;font-size:20.6px;color:#5f5f5f;z-index:7">Total...</div>
<div class="t" style="left:1090px;top:81.81px;font-size:30px;font-weight:bold;color:#0d1321;z-index:7">549K</div>
<div class="t" style="left:1253.7px;top:42.88px;font-size:14.2px;color:#1f2033;z-index:7">Qty PM : <b style="color:#0d1321">483K</b></div>
<div class="t" style="left:1253.7px;top:63.78px;font-size:14.2px;color:#1f2033;z-index:7">Variance : <b style="color:#0d1321">66K</b> <span style="background:#c6e0c6;color:#1a7f1a;font-weight:bold;padding:2.2px 1.2px 0.8px 2px;letter-spacing:0">+13.7%&#8593;</span></div>
<div class="t" style="left:1090px;top:229.76px;font-size:20.6px;color:#5f5f5f;z-index:7">Total...</div>
<div class="t" style="left:1090px;top:267.04px;font-size:31.5px;font-weight:bold;color:#0d1321;z-index:7">$7M</div>
<div class="t" style="left:1253.7px;top:229.08px;font-size:14.2px;color:#1f2033;z-index:7">Sales PM : <b style="color:#0d1321">$7M</b></div>
<div class="t" style="left:1253.7px;top:249.98px;font-size:14.2px;color:#1f2033;z-index:7">Variance : <b style="color:#0d1321">877K</b> <span style="background:#c6e0c6;color:#1a7f1a;font-weight:bold;padding:2.2px 1.2px 0.8px 2px;letter-spacing:0">+13.3%&#8593;</span></div>
<div class="t" style="left:1090px;top:416.96px;font-size:20.6px;color:#5f5f5f;z-index:7">Total...</div>
<div class="t" style="left:1090px;top:452.74px;font-size:31.5px;font-weight:bold;color:#0d1321;z-index:7">$5M</div>
<div class="t" style="left:1253.7px;top:414.28px;font-size:14.2px;color:#1f2033;z-index:7">Cost PM : <b style="color:#0d1321">5M</b></div>
<div class="t" style="left:1253.7px;top:435.18px;font-size:14.2px;color:#1f2033;z-index:7">Variance : <b style="color:#0d1321">631K</b> <span style="background:#c6e0c6;color:#1a7f1a;font-weight:bold;padding:2.2px 1.2px 0.8px 2px;letter-spacing:0">+13.5%&#8593;</span></div>
<div class="t" style="left:1090px;top:602.66px;font-size:20.6px;color:#5f5f5f;z-index:7">Total...</div>
<div class="t" style="left:1090px;top:638.24px;font-size:31.5px;font-weight:bold;color:#0d1321;z-index:7">$2M</div>
<div class="t" style="left:1253.7px;top:599.68px;font-size:14.2px;color:#1f2033;z-index:7">Profit PM : <b style="color:#0d1321">2M</b></div>
<div class="t" style="left:1253.7px;top:620.58px;font-size:14.2px;color:#1f2033;z-index:7">Variance : <b style="color:#0d1321">246K</b> <span style="background:#c6e0c6;color:#1a7f1a;font-weight:normal;padding:2.2px 1.2px 0.8px 2px;letter-spacing:-0.5px">+12.7%&#8593;</span></div>
</body></html>
